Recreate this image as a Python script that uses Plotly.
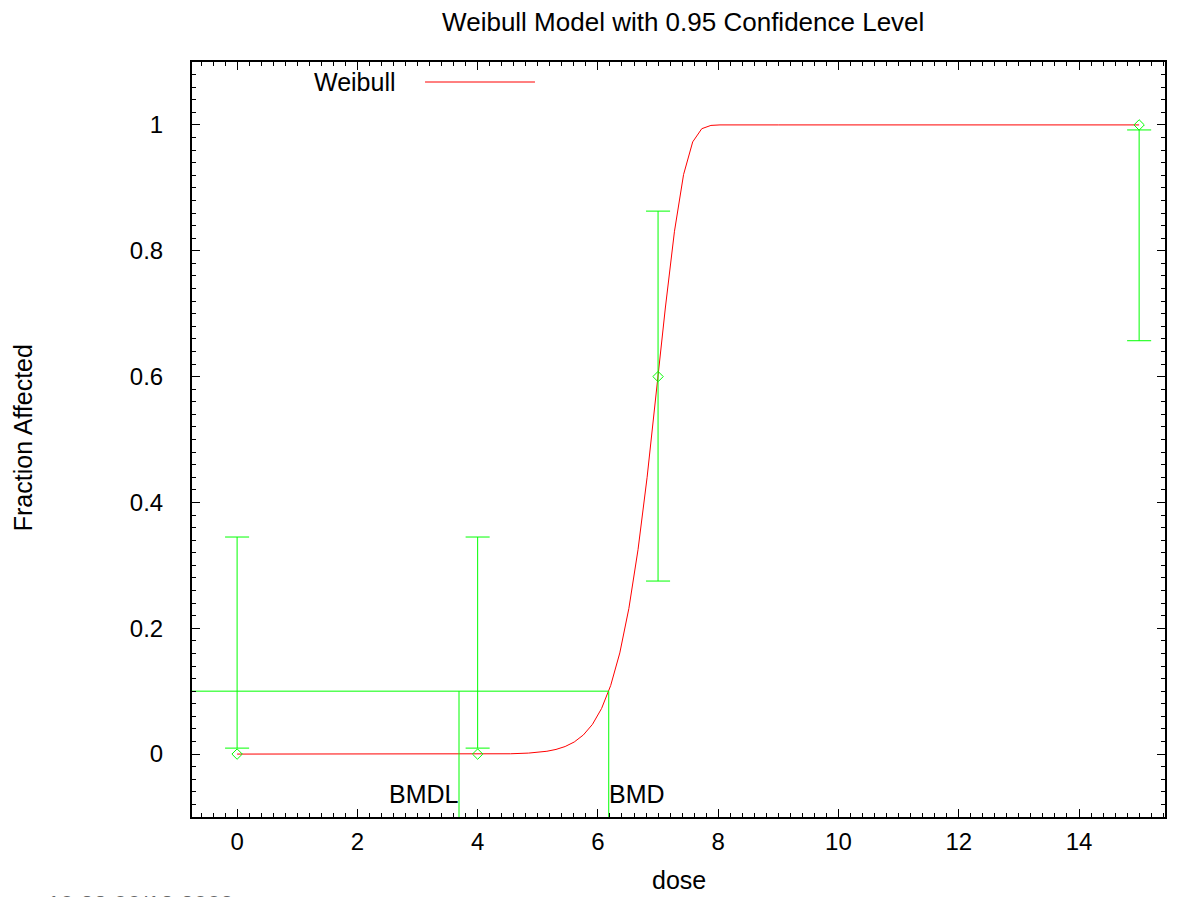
import plotly.graph_objects as go

# Observed data (dose, fraction affected, 95% CI bounds)
dose = [0, 4, 7, 15]
frac = [0.0, 0.0, 0.6, 1.0]
ci_lower = [0.0095, 0.0095, 0.275, 0.657]
ci_upper = [0.345, 0.345, 0.863, 0.992]

# Fitted Weibull curve
curve_dose = [0, 1.0, 2.0, 3.0, 4.0, 4.545, 4.848, 5.0, 5.152, 5.303, 5.455, 5.606,
              5.758, 5.909, 6.061, 6.212, 6.364, 6.515, 6.667, 6.818, 6.970, 7.121,
              7.273, 7.424, 7.576, 7.727, 7.879, 8.03, 9.0, 12.0, 15.0]
curve_frac = [0.0, 0.0, 0.0, 0.00001, 0.0002, 0.0005, 0.0016, 0.0027, 0.0045, 0.0074,
              0.012, 0.0192, 0.0304, 0.0472, 0.0725, 0.1089, 0.1608, 0.2316, 0.3249,
              0.440, 0.573, 0.709, 0.831, 0.921, 0.973, 0.994, 0.9992, 1.0, 1.0, 1.0, 1.0]

bmr = 0.1
bmd = 6.18
bmdl = 3.69

x_range = [-0.75, 15.43]
y_range = [-0.1, 1.1]
cap = 0.2

GREEN = "#00ff00"
RED = "#ff0000"
FONT = "Liberation Sans, Arial, sans-serif"
FS = 25
FS_TICK = 24
FS_TITLE = 26

fig = go.Figure()

# Fitted curve
fig.add_trace(go.Scatter(x=curve_dose, y=curve_frac, mode="lines",
                         line=dict(color=RED, width=1), showlegend=False,
                         hoverinfo="skip"))

# Error bars drawn as line segments
ex, ey = [], []
for d, lo, hi in zip(dose, ci_lower, ci_upper):
    ex += [d, d, None, d - cap, d + cap, None, d - cap, d + cap, None]
    ey += [lo, hi, None, lo, lo, None, hi, hi, None]
fig.add_trace(go.Scatter(x=ex, y=ey, mode="lines", line=dict(color=GREEN, width=1),
                         showlegend=False, hoverinfo="skip"))

# Observed points
fig.add_trace(go.Scatter(x=dose, y=frac, mode="markers",
                         marker=dict(symbol="diamond-open", color=GREEN, size=8,
                                     line=dict(width=1, color=GREEN)),
                         showlegend=False))

# BMD / BMDL lines
fig.add_trace(go.Scatter(x=[x_range[0], bmd, bmd], y=[bmr, bmr, y_range[0]], mode="lines",
                         line=dict(color=GREEN, width=1), showlegend=False, hoverinfo="skip"))
fig.add_trace(go.Scatter(x=[bmdl, bmdl], y=[bmr, y_range[0]], mode="lines",
                         line=dict(color=GREEN, width=1), showlegend=False, hoverinfo="skip"))

fig.add_annotation(x=bmdl, y=-0.063, text="BMDL", showarrow=False, xanchor="right",
                   yanchor="middle", font=dict(size=FS, color="black", family=FONT), xshift=2)
fig.add_annotation(x=bmd, y=-0.063, text="BMD", showarrow=False, xanchor="left",
                   yanchor="middle", font=dict(size=FS, color="black", family=FONT), xshift=-2)

# Legend drawn manually (text left of line sample)
fig.add_annotation(xref="paper", yref="paper", x=0.2117, y=0.9735, text="Weibull",
                   showarrow=False, xanchor="right", yanchor="middle",
                   font=dict(size=FS, color="black", family=FONT))
fig.add_shape(type="line", xref="paper", yref="paper", x0=0.2395, x1=0.3525,
              y0=0.9735, y1=0.9735, line=dict(color=RED, width=1))

# Axis titles as annotations
fig.add_annotation(xref="paper", yref="paper", x=-0.1737, y=0.503, text="Fraction Affected",
                   textangle=-90, showarrow=False, xanchor="center", yanchor="middle",
                   font=dict(size=FS, color="black", family=FONT))
fig.add_annotation(xref="paper", yref="paper", x=0.5, y=-0.0834, text="dose",
                   showarrow=False, xanchor="center", yanchor="middle",
                   font=dict(size=FS, color="black", family=FONT))

# timestamp, mostly cut off at the bottom edge
fig.add_annotation(xref="paper", yref="paper", x=-0.151, y=-0.0954, text="10:28 06/18 2009",
                   showarrow=False, xanchor="left", yanchor="top",
                   font=dict(size=FS_TICK, color="#666666", family=FONT))

axis_common = dict(showline=True, linecolor="black", linewidth=2, mirror="allticks",
                   ticks="inside", tickcolor="black", ticklen=8, tickwidth=1,
                   showgrid=False, zeroline=False,
                   tickfont=dict(size=FS_TICK, color="black", family=FONT))

fig.update_xaxes(range=x_range, tickmode="linear", tick0=0, dtick=2,
                 minor=dict(ticks="inside", ticklen=4, tick0=0, dtick=0.2, tickcolor="black"),
                 ticklabelstandoff=2,
                 **axis_common)
fig.update_yaxes(range=y_range, tickmode="array", tickvals=[0, 0.2, 0.4, 0.6, 0.8, 1],
                 ticktext=["0", "0.2", "0.4", "0.6", "0.8", "1"],
                 minor=dict(ticks="inside", ticklen=4, tick0=0, dtick=0.02, tickcolor="black"),
                 ticklabelstandoff=22,
                 **axis_common)

fig.update_layout(
    width=1178, height=897,
    margin=dict(l=192, r=13, t=62, b=80),
    paper_bgcolor="white", plot_bgcolor="white",
    title=dict(text="Weibull Model with 0.95 Confidence Level", x=0.58, xanchor="center",
               y=0.9755, yanchor="middle", font=dict(size=FS_TITLE, color="black", family=FONT)),
    showlegend=False,
)

fig.write_html("out.html")
